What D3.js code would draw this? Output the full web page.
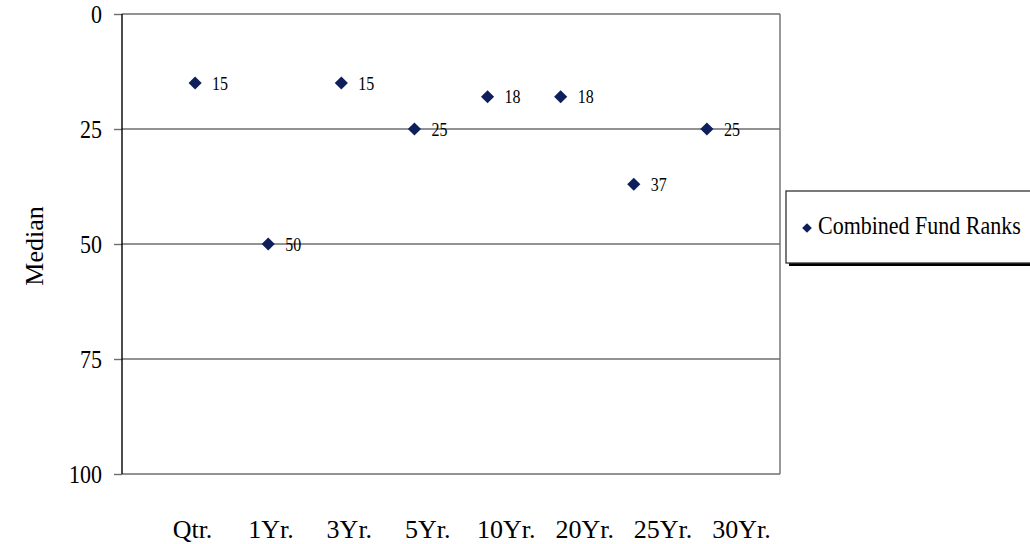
<!DOCTYPE html>
<html><head><meta charset="utf-8">
<script src="https://cdn.jsdelivr.net/npm/d3@7"></script>
<style>body{margin:0;background:#fff}svg{display:block}text{font-family:"Liberation Serif","Times New Roman",serif}</style>
</head><body>
<svg id="c" width="1030" height="544"></svg>
<script>
const categories = ["Qtr.","1Yr.","3Yr.","5Yr.","10Yr.","20Yr.","25Yr.","30Yr."];
const ranks = [15,50,15,25,18,18,37,25];
const yTicks = [0,25,50,75,100];
const seriesName = "Combined Fund Ranks";
const navy = "#0f1f5c";

const svg = d3.select("#c");
const L = 122, R = 780, T = 14, B = 474;
const x = d3.scalePoint().domain(categories).range([L, R]).padding(1);
const xLab = d3.scalePoint().domain(categories).range([192, 741]);
const y = d3.scaleLinear().domain([0,100]).range([T, B]);

svg.append("g").attr("transform",`translate(${L},0)`)
  .call(d3.axisLeft(y).tickValues(yTicks).tickSize(8).tickPadding(12).tickFormat(d3.format("d")))
  .call(g=>g.select(".domain").remove())
  .call(g=>g.selectAll("line").attr("stroke","#6e6e6e").attr("stroke-width",1.4))
  .call(g=>g.selectAll("text").attr("font-size",22).attr("fill","#000").attr("font-family","Liberation Serif").attr("transform","scale(1,1.15)"));
svg.append("g").selectAll("line").data(yTicks).join("line")
  .attr("x1",L).attr("x2",R).attr("y1",d=>y(d)).attr("y2",d=>y(d))
  .attr("stroke","#6e6e6e").attr("stroke-width",1.4);
svg.append("line").attr("x1",R).attr("x2",R).attr("y1",T).attr("y2",B).attr("stroke","#6e6e6e").attr("stroke-width",1.4);
svg.append("line").attr("x1",L).attr("x2",L).attr("y1",T).attr("y2",B).attr("stroke","#000").attr("stroke-width",1.4);

svg.append("g").attr("transform",`translate(0,${B})`)
  .call(d3.axisBottom(xLab).tickSize(0).tickPadding(46))
  .call(g=>g.select(".domain").remove())
  .call(g=>g.selectAll("text").attr("font-size",26).attr("fill","#000").attr("font-family","Liberation Serif"));

svg.append("text").attr("transform","translate(43,246) rotate(-90)").attr("text-anchor","middle")
  .attr("font-size",26).text("Median");

const sym = d3.symbol().type(d3.symbolDiamond2).size(110);
svg.append("g").selectAll("path").data(ranks).join("path")
  .attr("d",sym).attr("transform",(d,i)=>`translate(${x(categories[i])},${y(d)})`).attr("fill",navy);
svg.append("g").selectAll("text").data(ranks).join("text")
  .attr("transform",(d,i)=>`translate(${x(categories[i])+17},${y(d)+6.5}) scale(1,1.18)`)
  .attr("font-size",16).text(d=>d);

const lg = svg.append("g");
lg.append("rect").attr("x",789).attr("y",194).attr("width",260).attr("height",72).attr("fill","#000");
lg.append("rect").attr("x",786).attr("y",191).attr("width",260).attr("height",72).attr("fill","#fff").attr("stroke","#333").attr("stroke-width",1.3);
lg.append("path").attr("d",d3.symbol().type(d3.symbolDiamond2).size(60)).attr("transform","translate(807,228)").attr("fill",navy);
lg.append("text").attr("transform","translate(818,234) scale(1,1.15)").attr("font-size",22).text(seriesName);
</script>
</body></html>
